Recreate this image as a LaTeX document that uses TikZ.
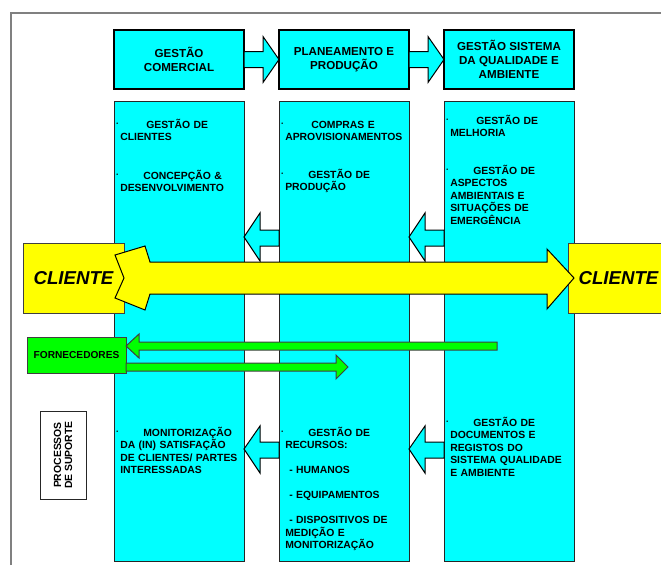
\documentclass[tikz,border=0pt]{standalone}
\usepackage{fontspec}
\setmainfont{Liberation Sans}
\usetikzlibrary{calc}

\definecolor{boxcyan}{RGB}{0,255,255}
\definecolor{boxyellow}{RGB}{255,255,0}
\definecolor{boxgreen}{RGB}{0,255,0}
\definecolor{framegray}{RGB}{128,128,128}

\newlength{\pxu}\setlength{\pxu}{0.75pt}
\newcommand{\itmark}{\llap{\raisebox{2.5\pxu}{\fontsize{4}{4}\selectfont\textbullet}\hspace{2\pxu}}}

\begin{document}
\begin{tikzpicture}[x=0.75pt, y=-0.75pt,
  topbox/.style={draw=black, line width=1.5pt, fill=boxcyan, minimum width=97.5pt, minimum height=44.25pt,
    inner sep=0pt, outer sep=0pt, align=center, font=\fontsize{8.7}{10.5}\selectfont\bfseries},
  column/.style={draw=black!85, line width=0.75pt, fill=boxcyan, minimum width=97.5pt, minimum height=345pt,
    inner sep=0pt, outer sep=0pt},
  coltext/.style={anchor=base west, inner sep=0pt, text width=95pt, align=left,
    font=\fontsize{7.8}{9.4}\selectfont\bfseries},
  clientbox/.style={draw=black!75, line width=0.75pt, fill=boxyellow, minimum width=75.75pt, minimum height=52.5pt,
    inner sep=0pt, outer sep=0pt, font=\fontsize{14}{16}\selectfont\bfseries\itshape},
  cyarrow/.style={draw=black, line width=0.75pt, fill=boxcyan},
  yarrow/.style={draw=black, line width=0.75pt, fill=boxyellow},
  garrow/.style={draw=black!75, line width=0.75pt, fill=boxgreen}
]
\useasboundingbox (0,0) rectangle (661,565);

% Frame lines
\draw[framegray, line width=1.1pt] (11,565) -- (11,13) -- (661,13);

% Process columns
\node[column] (col1) at (179,331) {};
\node[column] (col2) at (344,331) {};
\node[column] (col3) at (509,331) {};

% Main processes on top
\node[topbox] (com) at (179,59.5) {GESTÃO\\COMERCIAL};
\node[topbox] (plan) at (344,59.5) {PLANEAMENTO E\\PRODUÇÃO};
\node[topbox] (sgqa) at (509,59.5) {GESTÃO SISTEMA\\DA QUALIDADE E\\AMBIENTE};

% Arrows between the top boxes
\draw[cyarrow] ($(com.east)+(0,-8)$) -- ($(plan.west)+(-16,-8)$) -- ++(0,-15) -- (plan.west)
  -- ++(-16,23) -- ++(0,-15) -- ($(com.east)+(0,8)$) -- cycle;
\draw[cyarrow] ($(plan.east)+(0,-8)$) -- ($(sgqa.west)+(-16,-8)$) -- ++(0,-15) -- (sgqa.west)
  -- ++(-16,23) -- ++(0,-15) -- ($(plan.east)+(0,8)$) -- cycle;

% Arrows between the columns (upper)
\draw[cyarrow] ($(col1.east)+(0,-94)$) -- ++(16,-24) -- ++(0,17) -- ($(col2.west)+(0,-101)$)
  -- ++(0,16) -- ($(col1.east)+(16,-85)$) -- ++(0,15) -- cycle;
\draw[cyarrow] ($(col2.east)+(0,-94)$) -- ++(16,-24) -- ++(0,17) -- ($(col3.west)+(0,-101)$)
  -- ++(0,16) -- ($(col2.east)+(16,-85)$) -- ++(0,15) -- cycle;

% Arrows between the columns (lower)
\draw[cyarrow] ($(col1.east)+(0,118)$) -- ++(16,-23) -- ++(0,16) -- ($(col2.west)+(0,111)$)
  -- ++(0,16) -- ($(col1.east)+(16,127)$) -- ++(0,15) -- cycle;
\draw[cyarrow] ($(col2.east)+(0,118)$) -- ++(16,-23) -- ++(0,16) -- ($(col3.west)+(0,111)$)
  -- ++(0,16) -- ($(col2.east)+(16,127)$) -- ++(0,15) -- cycle;

% Client boxes and the big yellow arrow
\node[clientbox] (cl) at (73.5,278) {CLIENTE};
\node[clientbox] (cr) at (618.5,278) {CLIENTE};
\draw[yarrow] (cl.east) -- ++(-9,-23) -- ++(30,-9) -- ++(5,16) -- ($(cr.west)+(-21,-16)$) -- ++(0,-13)
  -- ($(cr.west)+(6,0)$) -- ++(-27,31) -- ++(0,-15) -- ($(cl.east)+(26,16)$) -- ++(-5,16) -- ++(-30,-12) -- cycle;

% Suppliers and green arrows
\node[draw=black!75, line width=0.75pt, fill=boxgreen, minimum width=74.25pt, minimum height=27pt,
  inner sep=0pt, outer sep=0pt, font=\fontsize{7.6}{9}\selectfont\bfseries] (forn) at (76.5,355) {FORNECEDORES};
\coordinate (gend) at (497,346);
\coordinate (gtip) at (348,367);
\draw[garrow] ($(forn.east)+(0,-9)$) -- ++(13,-12) -- ++(0,8) -- ($(gend)+(0,-4)$) -- ++(0,8)
  -- ($(forn.east)+(13,-5)$) -- ++(0,8) -- cycle;
\draw[garrow] ($(forn.east)+(0,8)$) -- ($(gtip)+(-12,-4)$) -- ++(0,-8) -- (gtip) -- ++(-12,12) -- ++(0,-8)
  -- ($(forn.east)+(0,16)$) -- cycle;

% Support processes label
\node[draw=black!85, line width=0.75pt, fill=white, rotate=90, minimum width=66pt, minimum height=34.5pt,
  inner sep=0pt, align=center, font=\fontsize{7.8}{8.25}\selectfont\bfseries] (proc) at (63,455) {PROCESSOS\\DE SUPORTE};

% Texts in the columns (upper)
\node[coltext] (c1a) at (120,128) {\itmark\hspace*{26\pxu}GESTÃO DE\\CLIENTES};
\node[coltext] (c1b) at (120,179) {\itmark\hspace*{23\pxu}CONCEPÇÃO \&\\DESENVOLVIMENTO};
\node[coltext] (c2a) at (285,128) {\itmark\hspace*{26\pxu}COMPRAS E\\APROVISIONAMENTOS};
\node[coltext] (c2b) at (285,178) {\itmark\hspace*{23\pxu}GESTÃO DE\\PRODUÇÃO};
\node[coltext] (c3a) at (450,124) {\itmark\hspace*{26\pxu}GESTÃO DE\\MELHORIA};
\node[coltext] (c3b) at (450,174) {\itmark\hspace*{23\pxu}GESTÃO DE\\ASPECTOS\\AMBIENTAIS E\\SITUAÇÕES DE\\EMERGÊNCIA};

% Texts in the columns (lower)
\node[coltext] (c1c) at (120,436) {\itmark\hspace*{23\pxu}MONITORIZAÇÃO\\DA (IN) SATISFAÇÃO\\DE CLIENTES/ PARTES\\INTERESSADAS};
\node[coltext] (c2c) at (285,436) {\itmark\hspace*{23\pxu}GESTÃO DE\\RECURSOS:\\[9.4pt]
  \hspace*{4\pxu}- HUMANOS\\[9.4pt]\hspace*{4\pxu}- EQUIPAMENTOS\\[9.4pt]\hspace*{4\pxu}- DISPOSITIVOS DE\\MEDIÇÃO E\\MONITORIZAÇÃO};
\node[coltext] (c3c) at (450,426) {\itmark\hspace*{23\pxu}GESTÃO DE\\DOCUMENTOS E\\REGISTOS DO\\SISTEMA QUALIDADE\\E AMBIENTE};
\end{tikzpicture}
\end{document}
